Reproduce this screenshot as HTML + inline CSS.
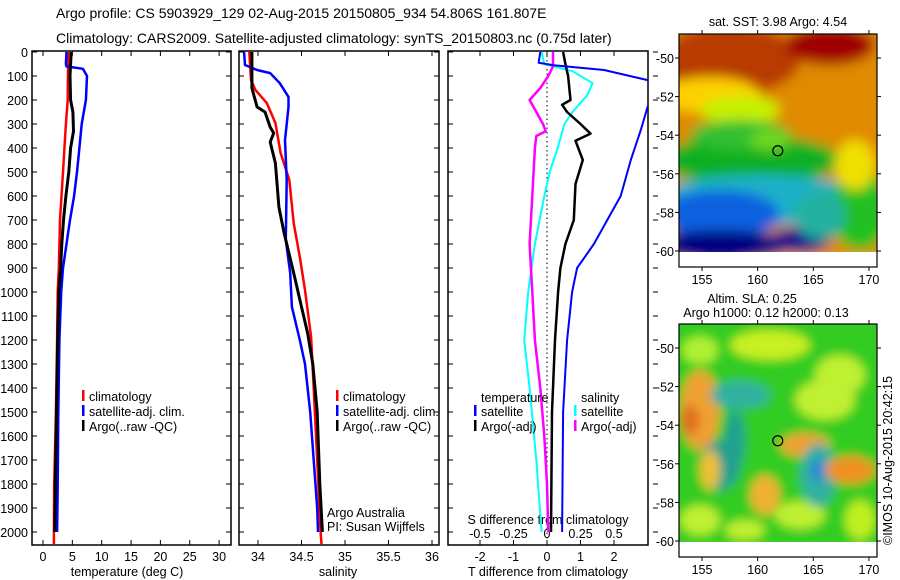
<!DOCTYPE html>
<html><head><meta charset="utf-8">
<style>
html,body{margin:0;padding:0;background:#fff;}
svg{display:block;font-family:"Liberation Sans",sans-serif;}
text{fill:#000;}
</style></head>
<body>
<svg id="fig" width="900" height="580" viewBox="0 0 900 580" xmlns="http://www.w3.org/2000/svg">
<defs>
<filter id="blur1" x="-20%" y="-20%" width="140%" height="140%"><feGaussianBlur stdDeviation="6"/></filter>
<filter id="blur2" x="-20%" y="-20%" width="140%" height="140%"><feGaussianBlur stdDeviation="5"/></filter>
<clipPath id="clipA"><rect x="32" y="51" width="199" height="494"/></clipPath>
<clipPath id="clipB"><rect x="239" y="51" width="200" height="494"/></clipPath>
<clipPath id="clipC"><rect x="448" y="51" width="200" height="494"/></clipPath>
<clipPath id="clipM1"><rect x="679" y="34" width="198" height="218"/></clipPath>
<clipPath id="clipM2"><rect x="679" y="324" width="198" height="218"/></clipPath>
</defs>
<text x="56" y="18" font-size="14">Argo profile: CS 5903929_129 02-Aug-2015 20150805_934 54.806S 161.807E</text>
<text x="56" y="43" font-size="14">Climatology: CARS2009. Satellite-adjusted climatology: synTS_20150803.nc (0.75d later)</text>
<g id="maps"></g>
<g id="panels"></g>
</svg>
<script>
// ---------- data ----------
const depthTicks = [0,100,200,300,400,500,600,700,800,900,1000,1100,1200,1300,1400,1500,1600,1700,1800,1900,2000];
const tempTicks = [0,5,10,15,20,25,30];
const salTicks = [34,34.5,35,35.5,36];
const salTickLabels = ["34","34.5","35","35.5","36"];
const tdiffTicks = [-2,-1,0,1,2];
const sdiffTicks = [-0.5,-0.25,0,0.25,0.5];
const sdiffTickLabels = ["-0.5","-0.25","0","0.25","0.5"];

const tClimDepth = [0,200,300,500,700,900,1000,1200,1500,1800,2000,2050];
const tClim      = [4.3,4.2,3.9,3.4,2.9,2.7,2.5,2.4,2.2,1.9,1.85,1.85];
const tSatDepth = [0,50,60,70,100,200,300,400,500,600,700,800,900,1000,1200,1500,1800,2000];
const tSat      = [4.0,3.9,4.0,6.8,7.5,7.3,6.6,6.2,5.8,5.3,4.6,4.0,3.4,3.1,2.8,2.6,2.5,2.4];
const tArgoDepth = [0,100,200,250,330,400,500,600,700,800,900,1000,1200,1500,1800,2000];
const tArgo      = [4.8,4.6,4.7,5.1,5.2,4.7,4.4,3.9,3.5,3.2,3.0,2.7,2.5,2.3,2.1,2.0];

const sClimDepth = [0,117,158,212,296,421,533,713,854,992,1187,1400,1700,2000,2050];
const sClim      = [33.9,33.92,33.97,34.1,34.2,34.26,34.36,34.41,34.48,34.54,34.61,34.64,34.68,34.72,34.73];
const sSatDepth = [0,54,75,88,130,187,229,367,533,783,921,1062,1200,1300,1500,1700,1900,2000];
const sSat      = [33.84,33.85,33.99,34.14,34.25,34.35,34.35,34.31,34.33,34.32,34.37,34.39,34.48,34.54,34.6,34.64,34.68,34.69];
const sArgoDepth = [0,150,229,250,313,338,375,463,646,754,921,1062,1171,1300,1500,1800,2000];
const sArgo      = [33.93,33.93,33.99,34.08,34.14,34.18,34.14,34.2,34.24,34.3,34.41,34.5,34.57,34.63,34.68,34.71,34.74];

const dTSatDepth = [0,45,55,75,130,230,325,450,600,700,800,900,1000,1200,1500,2000];
const dTSat      = [-0.2,-0.25,0.2,1.7,3.4,3.0,2.8,2.5,2.2,1.8,1.4,0.9,0.75,0.6,0.48,0.45];
const dTArgoDepth = [0,50,100,200,220,250,300,340,370,450,550,700,800,900,1000,1200,1500,2000];
const dTArgo      = [0.48,0.55,0.63,0.7,0.45,0.6,1.0,1.3,0.85,1.07,0.85,0.8,0.55,0.4,0.33,0.24,0.15,0.12];
const dSSatDepth = [0,50,80,130,180,250,300,400,500,600,800,1000,1200,1400,1700,2000];
const dSSat      = [-0.04,-0.02,0.19,0.34,0.3,0.19,0.13,0.08,0.02,-0.02,-0.09,-0.14,-0.17,-0.13,-0.08,-0.04];
const dSArgoDepth = [0,60,100,150,200,250,300,330,350,400,600,800,1000,1200,1400,1600,1800,2000];
const dSArgo      = [0.045,0.045,0.01,-0.05,-0.13,-0.08,-0.03,-0.01,-0.08,-0.09,-0.11,-0.13,-0.11,-0.09,-0.05,-0.02,0,0.01];

const mapLonTicks = [155,160,165,170];
const mapLatTicks = [-50,-52,-54,-56,-58,-60];
const argoLon = 161.807, argoLat = -54.806;

// ---------- helpers ----------
const NS = "http://www.w3.org/2000/svg";
function mk(tag, attrs, parent){ const e=document.createElementNS(NS,tag); for(const k in attrs) e.setAttribute(k,attrs[k]); parent.appendChild(e); return e; }
function txt(s, x, y, attrs, parent){ const t=mk('text',Object.assign({x:x,y:y,'font-size':12},attrs||{}),parent); t.textContent=s; return t; }

const yD = d => 52 + 0.24*d;
const PTOP=51, PBOT=545;
const panels = document.getElementById('panels');

function frame(x0,x1,name){
  const r = mk('rect',{x:x0,y:PTOP,width:x1-x0,height:PBOT-PTOP,fill:'none',stroke:'#000','stroke-width':1.5},panels);
  
  
}
function yTicks(x0,x1,labels){
  depthTicks.forEach(d=>{
    const y=yD(d);
    mk('line',{x1:x0,y1:y,x2:x0+5,y2:y,stroke:'#000'},panels);
    mk('line',{x1:x1,y1:y,x2:x1-5,y2:y,stroke:'#000'},panels);
    if(labels){ const t=txt(String(d),28,y+5,{'font-size':12.5,'text-anchor':'end'},panels);
      
       }
  });
}
function xTicks(vals,labels,fx,ytxt,top){
  vals.forEach((v,i)=>{
    const x=fx(v);
    mk('line',{x1:x,y1:PBOT,x2:x,y2:PBOT-5,stroke:'#000'},panels);
    if(top) mk('line',{x1:x,y1:PTOP,x2:x,y2:PTOP+5,stroke:'#000'},panels);
    const t=txt(labels[i],x,ytxt,{'font-size':12.5,'text-anchor':'middle'},panels);
    
    
  });
}
function series(depths, vals, fx, color, clip, name, w){
  const pts = depths.map((d,i)=> fx(vals[i]).toFixed(1)+','+yD(d).toFixed(1)).join(' ');
  const p = mk('polyline',{points:pts,fill:'none',stroke:color,'stroke-width':w||2.5,'clip-path':'url(#'+clip+')','stroke-linejoin':'round'},panels);
  
  
}
function legendRow(x,y,color,label,name){
  const g = mk('g',{},panels);
  
  
  mk('rect',{x:x,y:y-7,width:2.5,height:11,fill:color},g);
  txt(label,x+7,y+4,{'font-size':12.5},g);
}

// ---------- panel 1: temperature ----------
const xT = t => 43 + 5.87*t;
frame(32,231,'temperature-panel');
yTicks(32,231,true);
xTicks(tempTicks,tempTicks.map(String),xT,561,true);
txt('temperature (deg C)',127,576,{'font-size':12.5,'text-anchor':'middle'},panels);
series(tClimDepth,tClim,xT,'#f00','clipA','temp-climatology-line');
series(tSatDepth,tSat,xT,'#00f','clipA','temp-satellite-line');
series(tArgoDepth,tArgo,xT,'#000','clipA','temp-argo-line',3);
legendRow(82,397,'#f00','climatology','legend-climatology');
legendRow(82,412,'#00f','satellite-adj. clim.','legend-satellite');
legendRow(82,427,'#000','Argo(..raw -QC)','legend-argo');

// ---------- panel 2: salinity ----------
const xS = s => 258 + 87*(s-34);
frame(239,439,'salinity-panel');
yTicks(239,439,false);
xTicks(salTicks,salTickLabels,xS,561,true);
txt('salinity',338,576,{'font-size':12.5,'text-anchor':'middle'},panels);
series(sClimDepth,sClim,xS,'#f00','clipB','sal-climatology-line');
series(sSatDepth,sSat,xS,'#00f','clipB','sal-satellite-line');
series(sArgoDepth,sArgo,xS,'#000','clipB','sal-argo-line',3);
legendRow(336,397,'#f00','climatology','legend-climatology-2');
legendRow(336,412,'#00f','satellite-adj. clim.','legend-satellite-2');
legendRow(336,427,'#000','Argo(..raw -QC)','legend-argo-2');
txt('Argo Australia',327,517,{'font-size':12.5},panels);
txt('PI: Susan Wijffels',327,531,{'font-size':12.5},panels);

// ---------- panel 3: differences ----------
const xDT = t => 547 + 33.5*t;
const xDS = s => 547 + 134*s;
frame(448,648,'difference-panel');
depthTicks.forEach(d=>{ const y=yD(d); mk('line',{x1:448,y1:y,x2:453,y2:y,stroke:'#000'},panels); mk('line',{x1:653,y1:y,x2:658,y2:y,stroke:'#000'},panels); });
xTicks(tdiffTicks,tdiffTicks.map(String),xDT,561,false);
sdiffTicks.forEach(v=>{ mk('line',{x1:xDS(v),y1:PTOP,x2:xDS(v),y2:PTOP+5,stroke:'#000'},panels); });
sdiffTicks.forEach((v,i)=>{ const t=txt(sdiffTickLabels[i],xDS(v),538,{'font-size':12.5,'text-anchor':'middle'},panels);
  
   });
txt('S difference from climatology',548,524,{'font-size':12.5,'text-anchor':'middle'},panels);
txt('T difference from climatology',548,576,{'font-size':12.5,'text-anchor':'middle'},panels);
mk('line',{x1:547,y1:PTOP,x2:547,y2:PBOT,stroke:'#000','stroke-dasharray':'1.5,3'},panels);
series(dSSatDepth,dSSat,xDS,'#0ff','clipC','sdiff-satellite-line',2);
series(dSArgoDepth,dSArgo,xDS,'#f0f','clipC','sdiff-argo-line',2.5);
series(dTArgoDepth,dTArgo,xDT,'#000','clipC','tdiff-argo-line',2.5);
series(dTSatDepth,dTSat,xDT,'#00f','clipC','tdiff-satellite-line',2);
txt('temperature',481,402,{'font-size':12.5},panels);
legendRow(474,412,'#00f','satellite','legend-t-satellite');
legendRow(474,427,'#000','Argo(-adj)','legend-t-argo');
txt('salinity',581,402,{'font-size':12.5},panels);
legendRow(574,412,'#0ff','satellite','legend-s-satellite');
legendRow(574,427,'#f0f','Argo(-adj)','legend-s-argo');

// ---------- maps ----------
const maps = document.getElementById('maps');
function mapAxes(top,name,latY0){
  const x0=679,x1=877,y0=top,y1=top+233;
  const lonX = l => 702 + (l-155)*11.13;
  const latY = l => latY0 + (-50-l)*19.3;
  const r=mk('rect',{x:x0,y:y0,width:x1-x0,height:y1-y0,fill:'none',stroke:'#000','stroke-width':1.2},maps);
  
  
  mapLonTicks.forEach(l=>{ const x=lonX(l);
    mk('line',{x1:x,y1:y1,x2:x,y2:y1+4,stroke:'#000'},maps);
    mk('line',{x1:x,y1:y0,x2:x,y2:y0-4,stroke:'#000'},maps);
    txt(String(l),x,y1+17,{'font-size':12.5,'text-anchor':'middle'},maps); });
  mapLatTicks.forEach(l=>{ const y=latY(l);
    mk('line',{x1:x0,y1:y,x2:x0-4,y2:y,stroke:'#000'},maps);
    mk('line',{x1:x1,y1:y,x2:x1+4,y2:y,stroke:'#000'},maps);
    txt(String(l),674,y+5,{'font-size':12.5,'text-anchor':'end'},maps); });
  const c=mk('circle',{cx:lonX(argoLon),cy:latY(argoLat),r:5,fill:'none',stroke:'#000','stroke-width':1.2},maps);
  
  
}
function blob(g,cx,cy,rx,ry,color){ mk('ellipse',{cx:cx,cy:cy,rx:rx,ry:ry,fill:color},g); }

// top SST map
const g1 = mk('g',{'clip-path':'url(#clipM1)'},maps);


const g1b = mk('g',{filter:'url(#blur1)'},g1);
mk('rect',{x:660,y:20,width:240,height:240,fill:'#e08a00'},g1b);
blob(g1b,730,60,70,35,'#b83a00');
blob(g1b,830,45,45,20,'#a00000');
blob(g1b,710,95,50,18,'#ffd000');
blob(g1b,740,110,40,15,'#c8f000');
blob(g1b,750,160,90,25,'#10b020');
blob(g1b,740,135,50,15,'#30c030');
blob(g1b,760,200,110,25,'#1ab0c8');
blob(g1b,720,215,60,25,'#1060e0');
blob(g1b,720,245,70,15,'#000080');
blob(g1b,800,240,30,12,'#000090');
blob(g1b,860,210,30,40,'#20c020');
blob(g1b,855,165,20,25,'#f0e000');
blob(g1b,820,215,25,25,'#20b0a0');
blob(g1b,770,140,20,10,'#70d820');
mk('rect',{x:679,y:252,width:198,height:16,fill:'#fff'},g1);
mapAxes(34,'sst-map-frame',58);
txt('sat. SST: 3.98 Argo: 4.54',778,26,{'font-size':12.5,'text-anchor':'middle'},maps);

// bottom SLA map
const g2 = mk('g',{'clip-path':'url(#clipM2)'},maps);


const g2b = mk('g',{filter:'url(#blur2)'},g2);
mk('rect',{x:660,y:310,width:240,height:240,fill:'#30cc20'},g2b);
blob(g2b,770,345,40,15,'#c8f020');
blob(g2b,840,375,25,20,'#c0f030');
blob(g2b,700,350,18,14,'#b0f030');
blob(g2b,800,515,25,14,'#c0f030');
blob(g2b,745,530,20,10,'#c0f030');
blob(g2b,700,410,20,40,'#f0a030');
blob(g2b,690,420,10,15,'#e07020');
blob(g2b,740,395,30,14,'#30b0a0');
blob(g2b,735,440,10,30,'#20a090');
blob(g2b,720,465,20,25,'#20a090');
blob(g2b,805,445,25,12,'#f0a030');
blob(g2b,818,475,18,32,'#30b0a0');
blob(g2b,818,470,6,12,'#2080e0');
blob(g2b,850,470,25,14,'#f09020');
blob(g2b,765,495,15,20,'#f0b030');
blob(g2b,710,470,10,20,'#f0c030');
blob(g2b,860,520,15,20,'#c0f020');
blob(g2b,825,400,30,20,'#c0f030');
blob(g2b,700,520,20,15,'#c0f030');
mk('rect',{x:679,y:542,width:198,height:16,fill:'#fff'},g2);
mapAxes(324,'sla-map-frame',348);
txt('Altim. SLA: 0.25',752,303,{'font-size':12.5,'text-anchor':'middle'},maps);
txt('Argo h1000: 0.12 h2000: 0.13',766,317,{'font-size':12.5,'text-anchor':'middle'},maps);
const cp = txt('©IMOS 10-Aug-2015 20:42:15',0,0,{'font-size':12.5,transform:'translate(892,545) rotate(-90)'},maps);


</script>
</body></html>
